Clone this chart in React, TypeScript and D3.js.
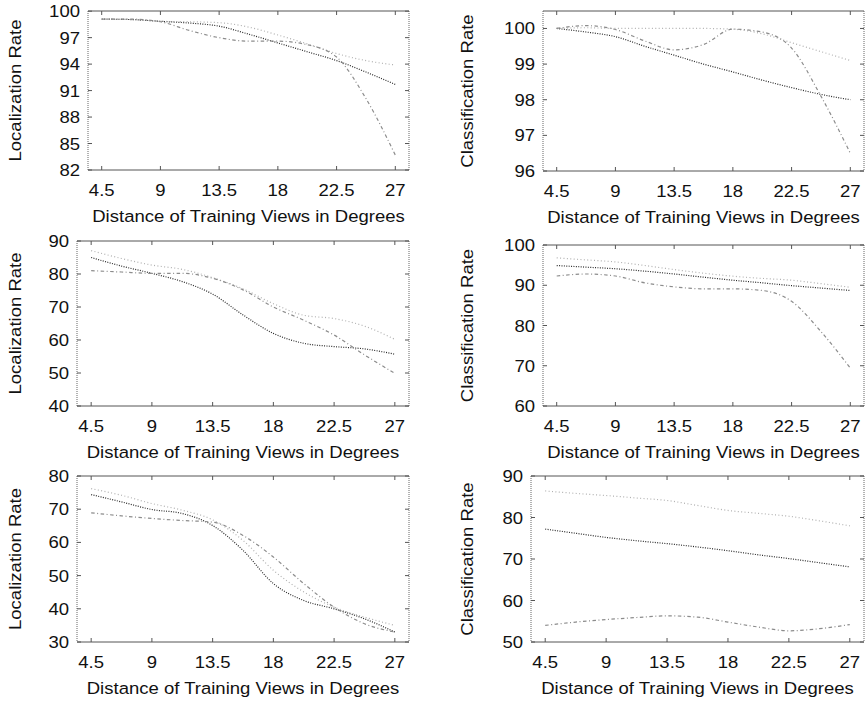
import * as d3 from "d3";
import React from "react";

// sampled distances (degrees) and the tick marks shown
const distances = [4.5, 6.75, 9, 11.25, 13.5, 15.75, 18, 20.25, 22.5, 24.75, 27];
const xTicks = [4.5, 9, 13.5, 18, 22.5, 27];

// top row
const loc1Dense = [99.1, 99.05, 98.85, 98.65, 98.3, 97.4, 96.4, 95.4, 94.4, 93.1, 91.7];
const loc1Light = [99.1, 99.05, 98.85, 98.8, 98.7, 98.2, 97.3, 96.3, 95.2, 94.4, 93.9];
const loc1DashDot = [99.1, 99.1, 98.8, 97.8, 97.0, 96.6, 96.6, 96.2, 94.8, 90.1, 83.7];
const cls1Dense = [100, 99.9, 99.77, 99.5, 99.25, 99.0, 98.78, 98.55, 98.34, 98.15, 98.0];
const cls1Light = [100, 100.02, 100, 100, 100, 100, 99.98, 99.85, 99.6, 99.35, 99.1];
const cls1DashDot = [100, 100.08, 99.97, 99.65, 99.4, 99.55, 99.98, 99.9, 99.45, 98.1, 96.5];

// middle row
const loc2Dense = [85.0, 82.4, 80.2, 77.7, 73.9, 67.6, 62.0, 59.0, 58.0, 57.3, 55.7];
const loc2Light = [87.1, 84.7, 82.7, 81.4, 78.9, 75.5, 71.0, 67.5, 66.5, 64.2, 60.2];
const loc2DashDot = [81.0, 80.6, 80.2, 80.2, 78.7, 75.2, 70.0, 66.0, 61.5, 55.5, 49.9];
const cls2Dense = [94.9, 94.5, 94.1, 93.5, 92.8, 92.0, 91.25, 90.6, 89.9, 89.3, 88.7];
const cls2Light = [96.8, 96.3, 95.8, 94.9, 93.9, 93.0, 92.25, 91.7, 91.25, 90.4, 89.5];
const cls2DashDot = [92.3, 92.8, 92.3, 90.6, 89.6, 89.1, 89.1, 88.7, 86.0, 78.5, 69.4];

// bottom row
const loc3Dense = [74.4, 72.2, 69.9, 68.7, 65.1, 57.6, 47.6, 42.5, 40.0, 37.0, 33.0];
const loc3Light = [76.2, 74.2, 71.7, 69.7, 66.8, 60.6, 51.6, 45.1, 40.5, 37.5, 35.0];
const loc3DashDot = [68.9, 68.0, 67.2, 66.6, 66.1, 62.1, 55.6, 47.6, 40.5, 35.5, 33.0];
const cls3Dense = [77.2, 76.2, 75.2, 74.4, 73.7, 72.9, 72.0, 71.0, 70.1, 69.1, 68.1];
const cls3Light = [86.4, 85.8, 85.3, 84.7, 84.1, 82.9, 81.7, 81.0, 80.3, 79.2, 78.0];
const cls3DashDot = [54.0, 54.8, 55.4, 55.9, 56.3, 56.0, 54.8, 53.6, 52.7, 53.2, 54.2];

// y ticks
const locTicks1 = [82, 85, 88, 91, 94, 97, 100];
const clsTicks1 = [96, 97, 98, 99, 100];
const locTicks2 = [40, 50, 60, 70, 80, 90];
const clsTicks2 = [60, 70, 80, 90, 100];
const locTicks3 = [30, 40, 50, 60, 70, 80];
const clsTicks3 = [50, 60, 70, 80, 90];

const xTitle = "Distance of Training Views in Degrees";
const FONT = "'Liberation Sans', Arial, Helvetica, sans-serif";
const FS = 17;
const SX = 1.09; // text in the source is a little wide

const styles = [
  { stroke: "#2a2a2a", dash: "1,1.4" },
  { stroke: "#b0b0b0", dash: "1,2.4" },
  { stroke: "#8c8c8c", dash: "3.5,2.5,1,2.5" },
];

const panels = [
  { box: [88, 11, 409, 170], y: [82, 100.02], ticks: locTicks1, title: "Localization Rate", tx: 15, series: [loc1Dense, loc1Light, loc1DashDot] },
  { box: [543, 11, 864, 171], y: [96, 100.49], ticks: clsTicks1, title: "Classification Rate", tx: 467, series: [cls1Dense, cls1Light, cls1DashDot] },
  { box: [77, 241, 409, 406], y: [40, 90], ticks: locTicks2, title: "Localization Rate", tx: 15, series: [loc2Dense, loc2Light, loc2DashDot] },
  { box: [543, 245, 864, 406], y: [60, 100], ticks: clsTicks2, title: "Classification Rate", tx: 467, series: [cls2Dense, cls2Light, cls2DashDot] },
  { box: [77, 476, 409, 642], y: [30, 80], ticks: locTicks3, title: "Localization Rate", tx: 15, series: [loc3Dense, loc3Light, loc3DashDot] },
  { box: [531, 476, 864, 642], y: [50, 90], ticks: clsTicks3, title: "Classification Rate", tx: 467, series: [cls3Dense, cls3Light, cls3DashDot] },
];

const Panel = ({ p }) => {
  const [l, t, r, b] = p.box;
  const x = d3.scaleLinear().domain([3.45, 28.05]).range([l, r]);
  const y = d3.scaleLinear().domain(p.y).range([b, t]);
  const line = d3
    .line()
    .x((d) => x(d[0]))
    .y((d) => y(d[1]))
    .curve(d3.curveMonotoneX);
  const tick = 4;

  return (
    <g>
      {/* curves */}
      {p.series.map((s, i) => (
        <path
          key={i}
          d={line(distances.map((dx, j) => [dx, s[j]]))}
          fill="none"
          stroke={styles[i].stroke}
          strokeWidth={1.2}
          strokeDasharray={styles[i].dash}
        />
      ))}

      {/* frame */}
      <line x1={l} x2={r} y1={t} y2={t} stroke="#555" />
      <line x1={l} x2={r} y1={b} y2={b} stroke="#555" />
      <line x1={l} x2={l} y1={t} y2={b} stroke="#666" strokeDasharray="1,1" />
      <line x1={r} x2={r} y1={t} y2={b} stroke="#666" strokeDasharray="1,1" />

      {/* x ticks */}
      {xTicks.map((v) => (
        <g key={v}>
          <line x1={x(v)} x2={x(v)} y1={b} y2={b - tick} stroke="#555" />
          <line x1={x(v)} x2={x(v)} y1={t} y2={t + tick} stroke="#555" />
          <text
            transform={`translate(${x(v)},${b + 26}) scale(${SX},1)`}
            textAnchor="middle"
          >
            {v}
          </text>
        </g>
      ))}

      {/* y ticks */}
      {p.ticks.map((v) => (
        <g key={v}>
          <line x1={l} x2={l + tick} y1={y(v)} y2={y(v)} stroke="#555" />
          <line x1={r} x2={r - tick} y1={y(v)} y2={y(v)} stroke="#555" />
          <text
            transform={`translate(${l - 8},${y(v) + 6}) scale(${SX},1)`}
            textAnchor="end"
          >
            {v}
          </text>
        </g>
      ))}

      {/* titles */}
      <text
        transform={`translate(${(l + r) / 2},${b + 52}) scale(${SX},1)`}
        textAnchor="middle"
      >
        {xTitle}
      </text>
      <text
        transform={`translate(${p.tx + 6},${(t + b) / 2}) rotate(-90) scale(${SX},1)`}
        textAnchor="middle"
      >
        {p.title}
      </text>
    </g>
  );
};

export default function App() {
  return (
    <div style={{ position: "absolute", left: 0, top: 0 }}>
      <svg
        width={867}
        height={703}
        style={{ display: "block", background: "#fff" }}
        fontFamily={FONT}
        fontSize={FS}
        fill="#111"
      >
        <rect width={867} height={703} fill="#fff" />
        {panels.map((p, i) => (
          <Panel key={i} p={p} />
        ))}
      </svg>
    </div>
  );
}
